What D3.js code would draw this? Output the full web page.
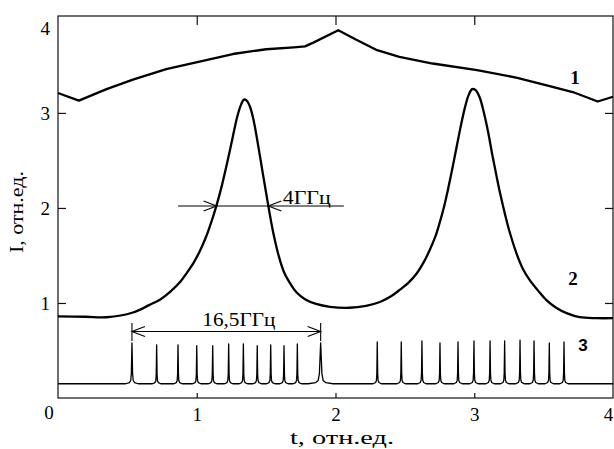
<!DOCTYPE html>
<html>
<head>
<meta charset="utf-8">
<script src="https://cdn.jsdelivr.net/npm/d3@7"></script>
<style>
  html, body { margin: 0; padding: 0; background: #fff; }
  svg { display: block; }
  text { font-family: "Liberation Serif", "Times New Roman", serif; fill: #000; }
</style>
</head>
<body>
<svg id="chart" width="614" height="449"></svg>
<script>
// Curve 1: wide envelope (time t, intensity I)
const curve1T = [0, 0.15, 0.35, 0.54, 0.78, 1.02, 1.26, 1.50, 1.70, 1.78, 1.84, 2.02, 2.15, 2.30, 2.46, 2.70, 3.02, 3.31, 3.55, 3.71, 3.89, 4.0];
const curve1I = [3.21, 3.13, 3.25, 3.35, 3.46, 3.54, 3.62, 3.67, 3.69, 3.70, 3.74, 3.87, 3.77, 3.66, 3.59, 3.52, 3.45, 3.37, 3.28, 3.22, 3.12, 3.17];

// Curve 2: two pulses
const curve2T = [0, 0.2, 0.35, 0.54, 0.66, 0.74, 0.81, 0.88, 0.93, 0.98, 1.02, 1.06, 1.10, 1.143, 1.18, 1.22, 1.26, 1.29, 1.32, 1.34, 1.36, 1.385, 1.41, 1.44, 1.48, 1.516, 1.55, 1.59, 1.63, 1.68, 1.72, 1.78, 1.86, 1.96, 2.10,
                 2.22, 2.32, 2.40, 2.465, 2.53, 2.585, 2.64, 2.68, 2.72, 2.75, 2.78, 2.81, 2.84, 2.87, 2.90, 2.93, 2.96, 2.985, 3.01, 3.04, 3.07, 3.10, 3.13, 3.16, 3.19, 3.245, 3.305, 3.35, 3.40, 3.46, 3.52, 3.59, 3.67, 3.76, 3.88, 4.0];
const curve2I = [0.86, 0.855, 0.85, 0.90, 0.98, 1.04, 1.12, 1.22, 1.32, 1.43, 1.54, 1.67, 1.83, 2.03, 2.23, 2.48, 2.75, 2.95, 3.09, 3.14, 3.13, 3.06, 2.92, 2.68, 2.33, 2.02, 1.75, 1.50, 1.32, 1.19, 1.11, 1.04, 0.99, 0.96, 0.95,
                 0.97, 1.01, 1.07, 1.14, 1.22, 1.31, 1.44, 1.56, 1.70, 1.84, 2.00, 2.19, 2.40, 2.62, 2.84, 3.04, 3.19, 3.25, 3.24, 3.16, 3.00, 2.80, 2.56, 2.34, 2.13, 1.80, 1.52, 1.36, 1.24, 1.13, 1.03, 0.95, 0.89, 0.85, 0.84, 0.84];

// Curve 3: pulse train (pulse centres, peak intensities, relative widths)
const pulseT = [0.533, 0.711, 0.865, 1.0, 1.115, 1.23, 1.336, 1.436, 1.533, 1.629, 1.725, 1.893,
                2.301, 2.474, 2.623, 2.753, 2.883, 2.998, 3.114, 3.219, 3.33, 3.431, 3.541, 3.647];
const pulseI = [0.58, 0.56, 0.56, 0.55, 0.55, 0.57, 0.57, 0.55, 0.56, 0.55, 0.57, 0.58,
                0.59, 0.59, 0.60, 0.58, 0.59, 0.60, 0.60, 0.60, 0.61, 0.60, 0.58, 0.59];
const pulseW = [1.5, 1, 1, 1, 1, 1, 1, 1, 1, 1, 1, 3,
                1, 1, 1, 1, 1, 1, 1, 1, 1, 1, 1, 1];
const baseI = 0.15;

const xTicks = [1, 2, 3, 4];
const yTicks = [1, 2, 3, 4];

const svg = d3.select("#chart");
const x = d3.scaleLinear().domain([0, 4]).range([58, 613]);
const y = d3.scaleLinear().domain([0, 4.02]).range([398, 16]);

const line = d3.line().x(d => x(d[0])).y(d => y(d[1]));
const smooth = d3.line().x(d => x(d[0])).y(d => y(d[1])).curve(d3.curveCatmullRom.alpha(0.5));

// frame
svg.append("rect")
  .attr("x", x(0)).attr("y", y(4.02))
  .attr("width", x(4) - x(0)).attr("height", y(0) - y(4.02))
  .attr("fill", "none").attr("stroke", "#111").attr("stroke-width", 1.2);

function styleAxis(g) {
  g.select(".domain").remove();
  g.attr("font-size", 19);
  g.selectAll("line").attr("stroke", "#111").attr("stroke-width", 1.2);
  g.selectAll("text").attr("fill", "#000");
}

const gLeft = svg.append("g").attr("transform", `translate(${x(0)},0)`)
  .call(d3.axisLeft(y).tickValues(yTicks).tickSize(-8).tickPadding(8).tickFormat(d3.format("d")))
  .call(styleAxis);
gLeft.selectAll(".tick").filter(d => d === 4).select("line").remove();
gLeft.selectAll(".tick").filter(d => d === 4).select("text").attr("dy", "0.85em");

svg.append("g").attr("transform", `translate(${x(4)},0)`)
  .call(d3.axisRight(y).tickValues([1, 2, 3]).tickSize(-8).tickFormat(""))
  .call(styleAxis);

const gBottom = svg.append("g").attr("transform", `translate(0,${y(0)})`)
  .call(d3.axisBottom(x).tickValues(xTicks).tickSize(-5).tickPadding(10).tickFormat(d3.format("d")))
  .call(styleAxis);
const last = gBottom.selectAll(".tick").filter(d => d === 4);
last.select("line").remove();
last.select("text").attr("x", -5);

svg.append("g").attr("transform", `translate(0,${y(4.02)})`)
  .call(d3.axisTop(x).tickValues([1, 2, 3]).tickSize(-9).tickFormat(""))
  .call(styleAxis);

// shared origin label
svg.append("text").attr("x", x(0) - 9).attr("y", y(0) + 21)
  .attr("text-anchor", "middle").attr("font-size", 19).text("0");

// axis titles
svg.append("text").attr("x", 342).attr("y", 444)
  .attr("text-anchor", "middle").attr("font-size", 18)
  .attr("textLength", 104).attr("lengthAdjust", "spacingAndGlyphs")
  .text("t, отн.ед.");
svg.append("text").attr("transform", "translate(23,212) rotate(-90)")
  .attr("text-anchor", "middle").attr("font-size", 18)
  .attr("textLength", 82).attr("lengthAdjust", "spacingAndGlyphs")
  .text("I, отн.ед.");

// curve 1
svg.append("path").datum(curve1T.map((t, i) => [t, curve1I[i]]))
  .attr("d", line).attr("fill", "none").attr("stroke", "#000")
  .attr("stroke-width", 2.3).attr("stroke-linejoin", "round");

// curve 2
svg.append("path").datum(curve2T.map((t, i) => [t, curve2I[i]]))
  .attr("d", smooth).attr("fill", "none").attr("stroke", "#000")
  .attr("stroke-width", 2.3).attr("stroke-linejoin", "round");

// curve 3: baseline with narrow spikes
const spikeShape = [[-0.03, 0], [-0.012, 0.03], [-0.006, 0.08], [-0.003, 0.25], [-0.0012, 0.7], [0, 1],
                    [0.0012, 0.7], [0.003, 0.25], [0.006, 0.08], [0.012, 0.03], [0.03, 0]];
const pts3 = [[0, baseI]];
pulseT.forEach((t0, i) => {
  spikeShape.forEach(([dt, f]) => pts3.push([t0 + dt * pulseW[i], baseI + f * (pulseI[i] - baseI)]));
});
pts3.push([4, baseI]);
svg.append("path").datum(pts3).attr("d", line)
  .attr("fill", "none").attr("stroke", "#000").attr("stroke-width", 1.3)
  .attr("stroke-linejoin", "round");

// curve labels
svg.append("text").attr("x", 575).attr("y", 84).attr("text-anchor", "middle")
  .attr("font-size", 19).attr("font-weight", "bold").text("1");
svg.append("text").attr("x", 573).attr("y", 285).attr("text-anchor", "middle")
  .attr("font-size", 19).attr("font-weight", "bold").text("2");
svg.append("text").attr("x", 583).attr("y", 351).attr("text-anchor", "middle")
  .attr("font-size", 17).attr("font-weight", "bold")
  .style("font-family", "Liberation Sans, Arial, sans-serif").text("3");

// annotation helpers
const ann = svg.append("g").attr("stroke", "#000").attr("stroke-width", 1.1).attr("fill", "none");
function arrowHead(tipX, tipY, dir) {
  // dir = +1 points right, -1 points left
  ann.append("path")
    .attr("d", `M${tipX - dir * 13},${tipY - 5}L${tipX},${tipY}L${tipX - dir * 13},${tipY + 5}`);
}

// full width at half maximum of the first pulse
const fwhmY = y(2.02);
ann.append("line").attr("x1", x(0.865)).attr("x2", x(2.06)).attr("y1", fwhmY).attr("y2", fwhmY);
arrowHead(x(1.143), fwhmY, 1);
arrowHead(x(1.516), fwhmY, -1);
svg.append("text").attr("x", x(1.62)).attr("y", fwhmY - 2).attr("font-size", 18)
  .attr("textLength", 48).attr("lengthAdjust", "spacingAndGlyphs").text("4ГГц");

// pulse train span
const spanY = y(0.70);
const xa = x(pulseT[0]), xb = x(pulseT[11]);
ann.append("line").attr("x1", xa).attr("x2", xb).attr("y1", spanY).attr("y2", spanY);
ann.append("line").attr("x1", xa).attr("x2", xa).attr("y1", y(0.79)).attr("y2", y(0.60));
ann.append("line").attr("x1", xb).attr("x2", xb).attr("y1", y(0.79)).attr("y2", y(0.60));
arrowHead(xa, spanY, -1);
arrowHead(xb, spanY, 1);
svg.append("text").attr("x", x(1.04)).attr("y", spanY - 5).attr("font-size", 18)
  .attr("textLength", 73).attr("lengthAdjust", "spacingAndGlyphs").text("16,5ГГц");
</script>
</body>
</html>
